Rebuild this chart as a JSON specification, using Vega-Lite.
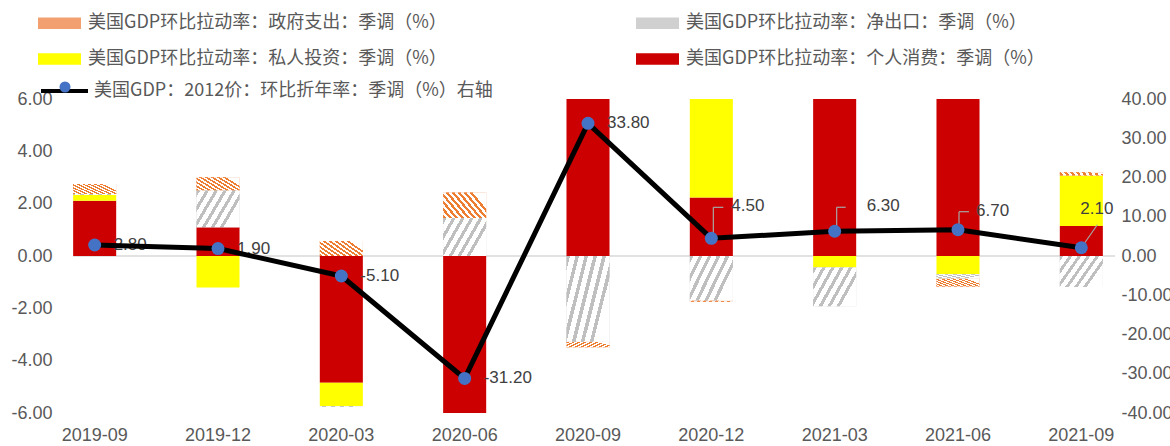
{
  "$schema": "https://vega.github.io/schema/vega-lite/v6.json",
  "autosize": {"type": "none"},
  "width": 1042,
  "height": 314,
  "padding": {"left": 73, "top": 99, "right": 55, "bottom": 33},
  "background": "white",
  "config": {
    "view": {"stroke": null},
    "font": "Liberation Sans",
    "locale": {"number": {"decimal": ".", "thousands": ",", "grouping": [3], "currency": ["$", ""], "minus": "-"}},
    "axis": {"labelFont": "Liberation Sans", "labelFontSize": 18, "labelColor": "#595959", "grid": false, "domain": false, "ticks": false, "labelOverlap": false}
  },
  "datasets": {
    "bars": [
      {"period": "2019-09", "series": "美国GDP环比拉动率：个人消费：季调（%）", "k": 1, "value": 2.11},
      {"period": "2019-09", "series": "美国GDP环比拉动率：私人投资：季调（%）", "k": 2, "value": 0.22},
      {"period": "2019-09", "series": "美国GDP环比拉动率：净出口：季调（%）", "k": 3, "value": 0.04},
      {"period": "2019-09", "series": "美国GDP环比拉动率：政府支出：季调（%）", "k": 4, "value": 0.38},
      {"period": "2019-12", "series": "美国GDP环比拉动率：个人消费：季调（%）", "k": 1, "value": 1.10},
      {"period": "2019-12", "series": "美国GDP环比拉动率：私人投资：季调（%）", "k": 2, "value": -1.20},
      {"period": "2019-12", "series": "美国GDP环比拉动率：净出口：季调（%）", "k": 3, "value": 1.40},
      {"period": "2019-12", "series": "美国GDP环比拉动率：政府支出：季调（%）", "k": 4, "value": 0.51},
      {"period": "2020-03", "series": "美国GDP环比拉动率：个人消费：季调（%）", "k": 1, "value": -4.84},
      {"period": "2020-03", "series": "美国GDP环比拉动率：私人投资：季调（%）", "k": 2, "value": -0.89},
      {"period": "2020-03", "series": "美国GDP环比拉动率：净出口：季调（%）", "k": 3, "value": -0.03},
      {"period": "2020-03", "series": "美国GDP环比拉动率：政府支出：季调（%）", "k": 4, "value": 0.57},
      {"period": "2020-06", "series": "美国GDP环比拉动率：个人消费：季调（%）", "k": 1, "value": -24.5},
      {"period": "2020-06", "series": "美国GDP环比拉动率：私人投资：季调（%）", "k": 2, "value": -8.8},
      {"period": "2020-06", "series": "美国GDP环比拉动率：净出口：季调（%）", "k": 3, "value": 1.45},
      {"period": "2020-06", "series": "美国GDP环比拉动率：政府支出：季调（%）", "k": 4, "value": 0.98},
      {"period": "2020-09", "series": "美国GDP环比拉动率：个人消费：季调（%）", "k": 1, "value": 25.4},
      {"period": "2020-09", "series": "美国GDP环比拉动率：私人投资：季调（%）", "k": 2, "value": 11.7},
      {"period": "2020-09", "series": "美国GDP环比拉动率：净出口：季调（%）", "k": 3, "value": -3.28},
      {"period": "2020-09", "series": "美国GDP环比拉动率：政府支出：季调（%）", "k": 4, "value": -0.21},
      {"period": "2020-12", "series": "美国GDP环比拉动率：个人消费：季调（%）", "k": 1, "value": 2.24},
      {"period": "2020-12", "series": "美国GDP环比拉动率：私人投资：季调（%）", "k": 2, "value": 4.2},
      {"period": "2020-12", "series": "美国GDP环比拉动率：净出口：季调（%）", "k": 3, "value": -1.70},
      {"period": "2020-12", "series": "美国GDP环比拉动率：政府支出：季调（%）", "k": 4, "value": -0.05},
      {"period": "2021-03", "series": "美国GDP环比拉动率：个人消费：季调（%）", "k": 1, "value": 7.4},
      {"period": "2021-03", "series": "美国GDP环比拉动率：私人投资：季调（%）", "k": 2, "value": -0.44},
      {"period": "2021-03", "series": "美国GDP环比拉动率：净出口：季调（%）", "k": 3, "value": -1.48},
      {"period": "2021-03", "series": "美国GDP环比拉动率：政府支出：季调（%）", "k": 4, "value": 1.0},
      {"period": "2021-06", "series": "美国GDP环比拉动率：个人消费：季调（%）", "k": 1, "value": 7.9},
      {"period": "2021-06", "series": "美国GDP环比拉动率：私人投资：季调（%）", "k": 2, "value": -0.70},
      {"period": "2021-06", "series": "美国GDP环比拉动率：净出口：季调（%）", "k": 3, "value": -0.16},
      {"period": "2021-06", "series": "美国GDP环比拉动率：政府支出：季调（%）", "k": 4, "value": -0.31},
      {"period": "2021-09", "series": "美国GDP环比拉动率：个人消费：季调（%）", "k": 1, "value": 1.15},
      {"period": "2021-09", "series": "美国GDP环比拉动率：私人投资：季调（%）", "k": 2, "value": 1.93},
      {"period": "2021-09", "series": "美国GDP环比拉动率：净出口：季调（%）", "k": 3, "value": -1.18},
      {"period": "2021-09", "series": "美国GDP环比拉动率：政府支出：季调（%）", "k": 4, "value": 0.12}
    ],
    "gdp": [
      {"period": "2019-09", "gdp": 2.8},
      {"period": "2019-12", "gdp": 1.9},
      {"period": "2020-03", "gdp": -5.1},
      {"period": "2020-06", "gdp": -31.2},
      {"period": "2020-09", "gdp": 33.8},
      {"period": "2020-12", "gdp": 4.5},
      {"period": "2021-03", "gdp": 6.3},
      {"period": "2021-06", "gdp": 6.7},
      {"period": "2021-09", "gdp": 2.1}
    ]
  },
  "layer": [
    {
      "layer": [
        {
          "data": {"values": [{}]},
          "mark": {"type": "rule", "color": "#D9D9D9", "strokeWidth": 1.5},
          "encoding": {"y": {"datum": 0, "type": "quantitative", "title": null}}
        },
        {
          "data": {"name": "bars"},
          "transform": [{"stack": "value", "groupby": ["period"], "sort": [{"field": "k", "order": "ascending"}], "as": ["v0", "v1"], "offset": "zero"}],
          "encoding": {
            "x": {"field": "period", "type": "ordinal", "scale": {"range": [-40, 1070], "paddingInner": 0.651, "paddingOuter": 0.3255}, "axis": {"title": null, "labelAngle": 0, "labelPadding": 13}},
            "y": {"field": "v1", "type": "quantitative", "scale": {"domain": [-6, 6], "nice": false}, "axis": {"title": null, "values": [-6, -4, -2, 0, 2, 4, 6], "format": ".2f", "labelPadding": 21, "labelOverlap": false}},
            "y2": {"field": "v0"}
          },
          "layer": [
            {
              "mark": {"type": "bar", "clip": true},
              "encoding": {
                "color": {
                  "field": "series", "type": "nominal",
                  "scale": {
                    "domain": ["美国GDP环比拉动率：政府支出：季调（%）", "美国GDP环比拉动率：净出口：季调（%）", "美国GDP环比拉动率：私人投资：季调（%）", "美国GDP环比拉动率：个人消费：季调（%）"],
                    "range": ["#F2A070", "#D0D0D0", "#FFFF00", "#CC0000"]
                  },
                  "legend": {
                    "orient": "none", "legendX": -35, "legendY": -97.5, "direction": "horizontal", "columns": 2, "columnPadding": 189, "rowPadding": 5,
                    "title": null, "padding": 0,
                    "symbolType": "M-1,-0.27H1V0.27H-1Z", "symbolSize": 1849, "symbolStrokeWidth": 0,
                    "labelFont": "Noto Sans CJK SC", "labelFontSize": 18, "labelColor": "#595959", "labelLimit": 700, "labelOffset": 7
                  }
                }
              }
            },
            {
              "transform": [{"filter": {"field": "series", "equal": "美国GDP环比拉动率：政府支出：季调（%）"}}],
              "mark": {"type": "bar", "clip": true, "fill": {"gradient": "linear", "x1": 0, "y1": 1, "x2": 1, "y2": 0.5, "stops": [
                {"offset": 0, "color": "#ED7D31"}, {"offset": 0.0556, "color": "#ED7D31"}, {"offset": 0.0556, "color": "#FFFFFF"}, {"offset": 0.1111, "color": "#FFFFFF"},
                {"offset": 0.1111, "color": "#ED7D31"}, {"offset": 0.1667, "color": "#ED7D31"}, {"offset": 0.1667, "color": "#FFFFFF"}, {"offset": 0.2222, "color": "#FFFFFF"},
                {"offset": 0.2222, "color": "#ED7D31"}, {"offset": 0.2778, "color": "#ED7D31"}, {"offset": 0.2778, "color": "#FFFFFF"}, {"offset": 0.3333, "color": "#FFFFFF"},
                {"offset": 0.3333, "color": "#ED7D31"}, {"offset": 0.3889, "color": "#ED7D31"}, {"offset": 0.3889, "color": "#FFFFFF"}, {"offset": 0.4444, "color": "#FFFFFF"},
                {"offset": 0.4444, "color": "#ED7D31"}, {"offset": 0.5, "color": "#ED7D31"}, {"offset": 0.5, "color": "#FFFFFF"}, {"offset": 0.5556, "color": "#FFFFFF"},
                {"offset": 0.5556, "color": "#ED7D31"}, {"offset": 0.6111, "color": "#ED7D31"}, {"offset": 0.6111, "color": "#FFFFFF"}, {"offset": 0.6667, "color": "#FFFFFF"},
                {"offset": 0.6667, "color": "#ED7D31"}, {"offset": 0.7222, "color": "#ED7D31"}, {"offset": 0.7222, "color": "#FFFFFF"}, {"offset": 0.7778, "color": "#FFFFFF"},
                {"offset": 0.7778, "color": "#ED7D31"}, {"offset": 0.8333, "color": "#ED7D31"}, {"offset": 0.8333, "color": "#FFFFFF"}, {"offset": 0.8889, "color": "#FFFFFF"},
                {"offset": 0.8889, "color": "#ED7D31"}, {"offset": 0.9444, "color": "#ED7D31"}, {"offset": 0.9444, "color": "#FFFFFF"}, {"offset": 1, "color": "#FFFFFF"}
              ]}}
            },
            {
              "transform": [{"filter": {"field": "series", "equal": "美国GDP环比拉动率：净出口：季调（%）"}}],
              "mark": {"type": "bar", "clip": true, "fill": {"gradient": "linear", "x1": 0, "y1": 0, "x2": 1, "y2": 0.5, "stops": [
                {"offset": 0, "color": "#BFBFBF"}, {"offset": 0.0667, "color": "#BFBFBF"}, {"offset": 0.0667, "color": "#FFFFFF"}, {"offset": 0.1667, "color": "#FFFFFF"},
                {"offset": 0.1667, "color": "#BFBFBF"}, {"offset": 0.2333, "color": "#BFBFBF"}, {"offset": 0.2333, "color": "#FFFFFF"}, {"offset": 0.3333, "color": "#FFFFFF"},
                {"offset": 0.3333, "color": "#BFBFBF"}, {"offset": 0.4, "color": "#BFBFBF"}, {"offset": 0.4, "color": "#FFFFFF"}, {"offset": 0.5, "color": "#FFFFFF"},
                {"offset": 0.5, "color": "#BFBFBF"}, {"offset": 0.5667, "color": "#BFBFBF"}, {"offset": 0.5667, "color": "#FFFFFF"}, {"offset": 0.6667, "color": "#FFFFFF"},
                {"offset": 0.6667, "color": "#BFBFBF"}, {"offset": 0.7333, "color": "#BFBFBF"}, {"offset": 0.7333, "color": "#FFFFFF"}, {"offset": 0.8333, "color": "#FFFFFF"},
                {"offset": 0.8333, "color": "#BFBFBF"}, {"offset": 0.9, "color": "#BFBFBF"}, {"offset": 0.9, "color": "#FFFFFF"}, {"offset": 1, "color": "#FFFFFF"}
              ]}}
            }
          ]
        }
      ]
    },
    {
      "data": {"name": "gdp"},
      "encoding": {
        "x": {"field": "period", "type": "ordinal"},
        "y": {"field": "gdp", "type": "quantitative", "scale": {"domain": [-40, 40], "nice": false}, "axis": {"orient": "right", "title": null, "values": [-40, -30, -20, -10, 0, 10, 20, 30, 40], "format": ".2f", "labelPadding": 6, "labelOverlap": false}}
      },
      "layer": [
        {
          "transform": [{"filter": {"field": "period", "equal": "2020-12"}}],
          "mark": {"type": "rule", "color": "#A6A6A6", "strokeWidth": 1.2, "xOffset": 2, "y2Offset": -31},
          "encoding": {"y2": {"field": "gdp"}}
        },
        {
          "transform": [{"filter": {"field": "period", "equal": "2020-12"}}],
          "mark": {"type": "rule", "color": "#A6A6A6", "strokeWidth": 1.2, "xOffset": 2, "x2Offset": 12, "yOffset": -31},
          "encoding": {"x2": {"field": "period"}}
        },
        {
          "transform": [{"filter": {"field": "period", "equal": "2021-03"}}],
          "mark": {"type": "rule", "color": "#A6A6A6", "strokeWidth": 1.2, "xOffset": 2, "y2Offset": -24},
          "encoding": {"y2": {"field": "gdp"}}
        },
        {
          "transform": [{"filter": {"field": "period", "equal": "2021-03"}}],
          "mark": {"type": "rule", "color": "#A6A6A6", "strokeWidth": 1.2, "xOffset": 2, "x2Offset": 11, "yOffset": -24},
          "encoding": {"x2": {"field": "period"}}
        },
        {
          "transform": [{"filter": {"field": "period", "equal": "2021-06"}}],
          "mark": {"type": "rule", "color": "#A6A6A6", "strokeWidth": 1.2, "xOffset": 1, "y2Offset": -18},
          "encoding": {"y2": {"field": "gdp"}}
        },
        {
          "transform": [{"filter": {"field": "period", "equal": "2021-06"}}],
          "mark": {"type": "rule", "color": "#A6A6A6", "strokeWidth": 1.2, "xOffset": 1, "x2Offset": 11, "yOffset": -18},
          "encoding": {"x2": {"field": "period"}}
        },
        {
          "transform": [{"filter": {"field": "period", "equal": "2021-09"}}],
          "mark": {"type": "rule", "color": "#A6A6A6", "strokeWidth": 1.2, "x2Offset": 16, "y2Offset": -23},
          "encoding": {"x2": {"field": "period"}, "y2": {"field": "gdp"}}
        },
        {
          "transform": [{"filter": {"field": "period", "oneOf": ["2019-09", "2019-12", "2020-03", "2020-06", "2020-09"]}}],
          "mark": {"type": "text", "align": "left", "baseline": "middle", "dx": 19, "font": "Liberation Sans", "fontSize": 17, "color": "#404040"},
          "encoding": {"text": {"field": "gdp", "type": "quantitative", "format": ".2f"}}
        },
        {
          "transform": [{"filter": {"field": "period", "equal": "2020-12"}}],
          "mark": {"type": "text", "align": "left", "baseline": "middle", "dx": 20, "dy": -32, "font": "Liberation Sans", "fontSize": 17, "color": "#404040"},
          "encoding": {"text": {"field": "gdp", "type": "quantitative", "format": ".2f"}}
        },
        {
          "transform": [{"filter": {"field": "period", "equal": "2021-03"}}],
          "mark": {"type": "text", "align": "left", "baseline": "middle", "dx": 32, "dy": -25, "font": "Liberation Sans", "fontSize": 17, "color": "#404040"},
          "encoding": {"text": {"field": "gdp", "type": "quantitative", "format": ".2f"}}
        },
        {
          "transform": [{"filter": {"field": "period", "equal": "2021-06"}}],
          "mark": {"type": "text", "align": "left", "baseline": "middle", "dx": 18, "dy": -19, "font": "Liberation Sans", "fontSize": 17, "color": "#404040"},
          "encoding": {"text": {"field": "gdp", "type": "quantitative", "format": ".2f"}}
        },
        {
          "transform": [{"filter": {"field": "period", "equal": "2021-09"}}],
          "mark": {"type": "text", "align": "left", "baseline": "middle", "dx": -1, "dy": -39, "font": "Liberation Sans", "fontSize": 17, "color": "#404040"},
          "encoding": {"text": {"field": "gdp", "type": "quantitative", "format": ".2f"}}
        },
        {
          "mark": {"type": "line", "strokeWidth": 5, "strokeJoin": "round", "strokeCap": "round"},
          "encoding": {
            "stroke": {
              "datum": "美国GDP：2012价：环比折年率：季调（%）右轴", "type": "nominal",
              "scale": {"range": ["#000000"]},
              "legend": {
                "orient": "none", "legendX": -34, "legendY": -33.5, "title": null, "padding": 0,
                "symbolType": "stroke", "symbolSize": 2209, "symbolStrokeWidth": 4,
                "labelFont": "Noto Sans CJK SC", "labelFontSize": 18, "labelColor": "#595959", "labelLimit": 700, "labelOffset": 4
              }
            }
          }
        },
        {
          "mark": {"type": "point", "filled": true, "size": 169, "color": "#4472C4", "opacity": 1},
          "encoding": {
            "shape": {
              "datum": "GDP", "type": "nominal",
              "scale": {"range": ["circle"]},
              "legend": {
                "orient": "none", "legendX": -17, "legendY": -21, "title": null, "padding": 0,
                "symbolSize": 121, "symbolFillColor": "#4472C4", "symbolStrokeWidth": 0,
                "labelFontSize": 18, "labelExpr": "''"
              }
            }
          }
        }
      ]
    }
  ],
  "resolve": {"scale": {"y": "independent"}}
}
